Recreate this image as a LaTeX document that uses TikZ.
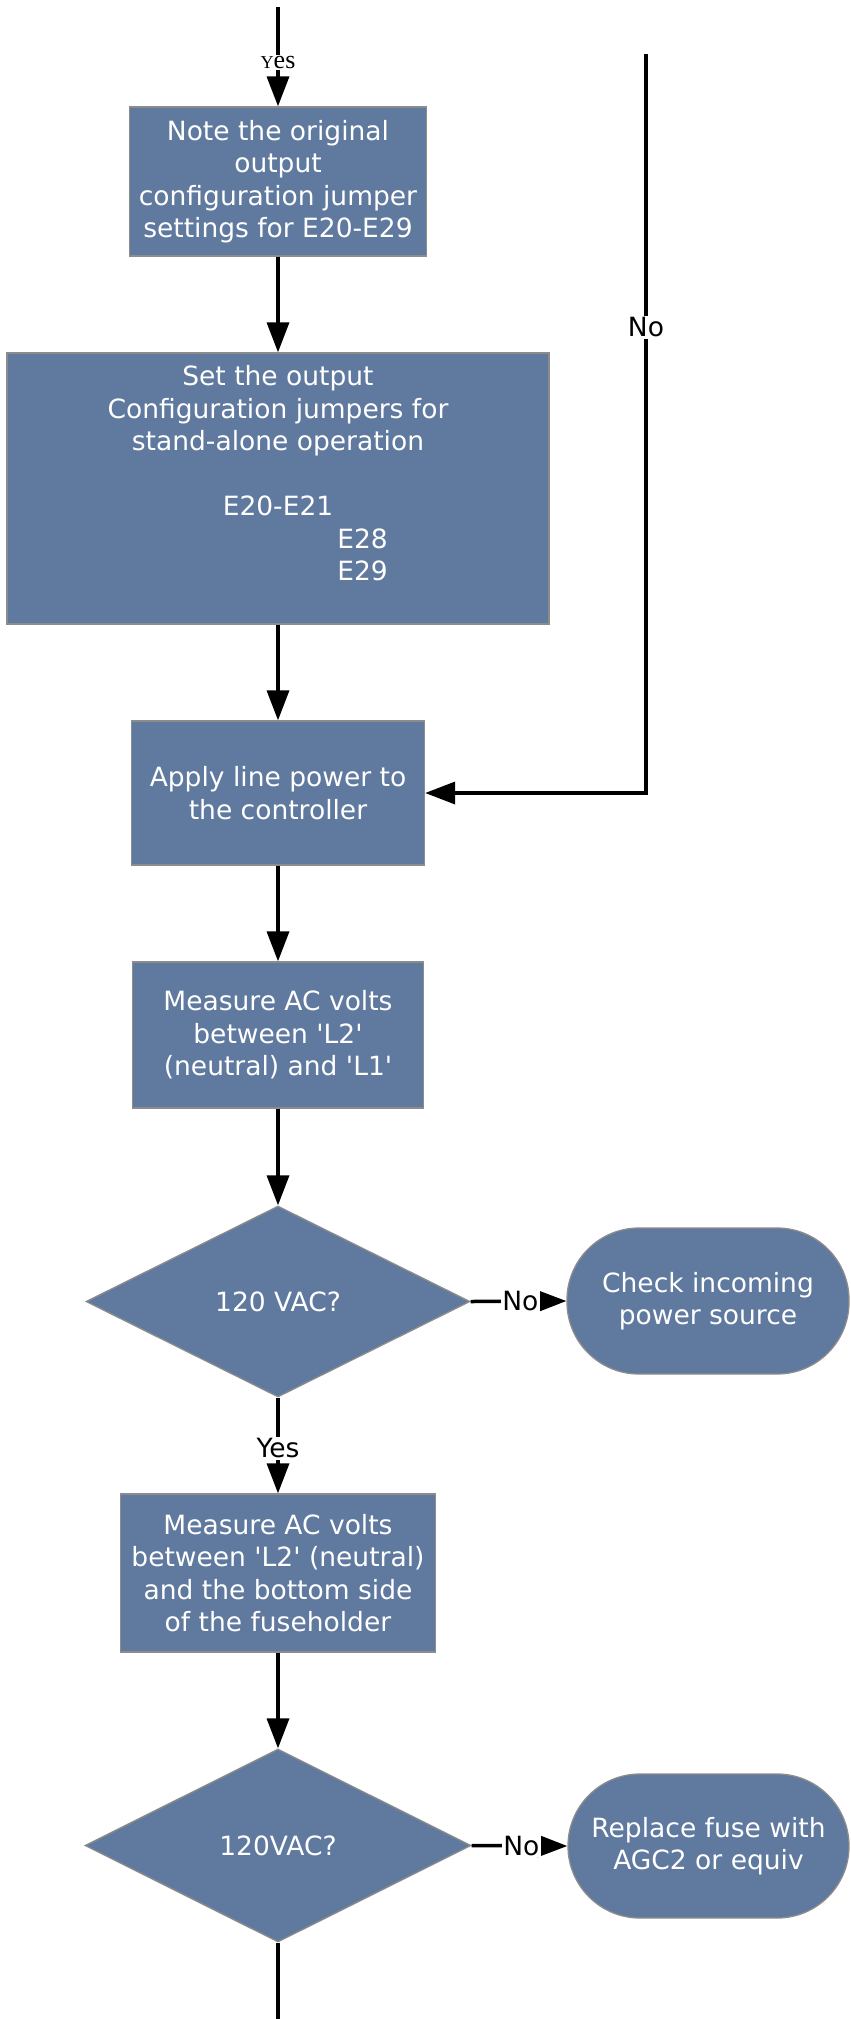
\documentclass[tikz,border=0pt]{standalone}
\usepackage{fontspec}
\setmainfont{DejaVu Sans}
\newfontfamily\yesserif{Liberation Serif}
\usetikzlibrary{arrows.meta,shapes.geometric}
\definecolor{boxfill}{RGB}{96,121,159}
\definecolor{boxline}{RGB}{140,140,140}
\newcommand{\sq}{\textquotesingle}
\begin{document}
\begin{tikzpicture}[x=1pt,y=-1pt,
  every node/.style={font=\fontsize{26.5}{32.5}\selectfont},
  box/.style={draw=boxline, line width=1.3pt, fill=boxfill, text=white, align=center, inner sep=0pt},
  dec/.style={diamond, draw=boxline, line width=1.3pt, fill=boxfill, text=white, aspect=2, inner sep=0pt},
  term/.style={draw=boxline, line width=1.3pt, fill=boxfill, text=white, align=center, rounded corners=72pt, inner sep=0pt},
  arr/.style={line width=3.5pt, -{Triangle[width=22pt,length=30pt]}},
  conn/.style={line width=3.5pt},
  lbl/.style={fill=white, text=black, inner sep=1.5pt}]
\useasboundingbox[fill=white] (0,0) rectangle (851,2019);

\coordinate (top) at (278,7);
\coordinate (rtop) at (646,54);
\coordinate (rbot) at (646,793);
\coordinate (bot) at (278,2019);

\node[box, minimum width=297, minimum height=149] (b1) at (278,181.5)
  {Note the original\\output\\configuration jumper\\settings for E20-E29};
\node[box, minimum width=542, minimum height=271] (b2) at (278,488.5) {};
\node[text=white, align=center, inner sep=0pt] (b2t) at (278,473.5)
  {Set the output\\Configuration jumpers for\\stand-alone operation\\\mbox{}\\E20-E21\\\hspace*{169pt}E28\\\hspace*{169pt}E29};
\node[box, minimum width=293, minimum height=144] (b3) at (278,793)
  {Apply line power to\\the controller};
\node[box, minimum width=291, minimum height=146] (b4) at (278,1035)
  {Measure AC volts\\between \sq L2\sq\\(neutral) and \sq L1\sq};
\node[dec, minimum width=384, minimum height=191] (d1) at (278,1301.5) {120 VAC?};
\node[term, minimum width=282, minimum height=146] (p1) at (708,1301)
  {Check incoming\\power source};
\node[box, minimum width=315, minimum height=158] (b5) at (278,1573)
  {Measure AC volts\\between \sq L2\sq{} (neutral)\\and the bottom side\\of the fuseholder};
\node[dec, minimum width=386, minimum height=193] (d2) at (278,1845.5) {120VAC?};
\node[term, minimum width=281, minimum height=144] (p2) at (708.5,1846)
  {Replace fuse with\\AGC2 or equiv};

\draw[arr] (top) -- node[pos=0.56, lbl, font=\yesserif\fontsize{26}{26}\selectfont]{\scalebox{0.7}{Y}es} (b1);
\draw[arr] (b1) -- (b2);
\draw[arr] (b2) -- (b3);
\draw[arr] (rtop) -- node[pos=0.37, lbl]{No} (rbot) -- (b3.east);
\draw[arr] (b3) -- (b4);
\draw[arr] (b4) -- (d1);
\draw[arr] (d1.east) -- node[pos=0.52, lbl]{No} (p1.west);
\draw[arr] (d1.south) -- node[pos=0.53, lbl]{Yes} (b5.north);
\draw[arr] (b5) -- (d2);
\draw[arr] (d2.east) -- node[pos=0.52, lbl]{No} (p2.west);
\draw[conn] (d2.south) -- (bot);
\end{tikzpicture}
\end{document}
